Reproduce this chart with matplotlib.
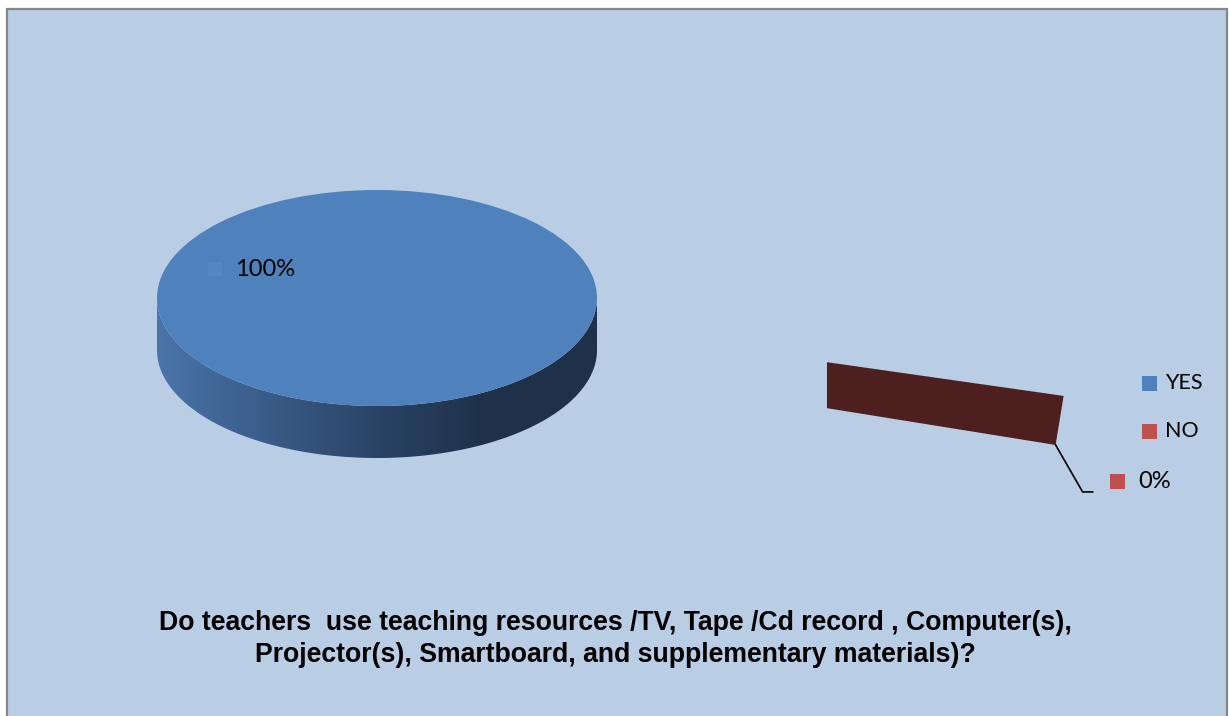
import numpy as np
import matplotlib.pyplot as plt
from matplotlib.patches import Rectangle, Polygon, Ellipse
from matplotlib.colors import LinearSegmentedColormap

# dados do gráfico
categorias = ['YES', 'NO']
valores = [100, 0]
cores = ['#4F81BD', '#C0504D']
titulo = ('Do teachers  use teaching resources /TV, Tape /Cd record , Computer(s),\n'
          'Projector(s), Smartboard, and supplementary materials)?')

W, H = 1229, 716
fig = plt.figure(figsize=(W / 100, H / 100), dpi=100, facecolor='white')
ax = fig.add_axes([0, 0, 1, 1])
ax.set_xlim(0, W)
ax.set_ylim(H, 0)
ax.axis('off')

# área do gráfico
ax.add_patch(Rectangle((7, 9), 1220, 720, facecolor='#B9CDE5',
                       edgecolor='#868686', lw=1.6, zorder=0))

# geometria da pizza 3D (eixo y para baixo)
cx, cy, rx, ry, prof = 377, 298, 220, 108, 52
inicio = 16.2  # graus, sentido horário na tela
total = sum(valores)
acum = np.concatenate([[0], np.cumsum(valores)])
ang_ini = inicio + 360 * acum[:-1] / total
ang_fim = inicio + 360 * acum[1:] / total

# fatia YES (100%): lateral com degradê + topo
t = np.linspace(0, np.pi, 200)
frente_x = cx + rx * np.cos(t)
frente_y = cy + ry * np.sin(t)
lateral = np.column_stack([np.concatenate([frente_x, frente_x[::-1]]),
                           np.concatenate([frente_y, frente_y[::-1] + prof])])
poly = Polygon(lateral, closed=True, facecolor='none', edgecolor='none')
ax.add_patch(poly)
grad_cmap = LinearSegmentedColormap.from_list(
    'lado', [(0, '#4A74AA'), (0.25, '#3A5C88'), (0.55, '#273F60'),
             (0.75, '#1F3149'), (1, '#1F3149')])
grad = np.linspace(0, 1, 256).reshape(1, -1)
img = ax.imshow(grad, cmap=grad_cmap, aspect='auto',
                extent=[cx - rx, cx + rx, cy + ry + prof, cy], zorder=2)
img.set_clip_path(poly)
ax.add_patch(Ellipse((cx, cy), 2 * rx, 2 * ry, facecolor=cores[0],
                     edgecolor='none', zorder=3))

# fatia NO (0%) explodida: aparece só a face lateral
explode, escala = 2.13, 1.12
a = np.deg2rad((ang_ini[1] + ang_fim[1]) / 2)
dx, dy = np.cos(a) * rx, np.sin(a) * ry
x0, y0 = cx + explode * dx, cy + explode * dy
x1, y1 = cx + (explode + escala) * dx, cy + (explode + escala) * dy
face = [(x0, y0), (x1, y1), (x1 - 8, y1 + 49), (x0, y0 + 46)]
ax.add_patch(Polygon(face, closed=True, facecolor='#4D1F1F',
                     edgecolor='none', zorder=3))

# rótulos de dados
pct = [f'{v / total * 100:.0f}%' for v in valores]
fonte = 'Lato'
ax.add_patch(Rectangle((208, 262), 14, 14, facecolor='#5587C2',
                       edgecolor='none', zorder=4))
ax.text(235, 270, pct[0], fontsize=17, family=fonte, va='center',
        ha='left', zorder=5)

lx, ly = x1 - 8, y1 + 49
ax.plot([lx, lx + 27, lx + 37], [ly, ly + 47, ly + 47], color='black',
        lw=1.2, zorder=4)
ax.add_patch(Rectangle((1110, 474), 15, 15, facecolor=cores[1],
                       edgecolor='none', zorder=4))
ax.text(1138, 482, pct[1], fontsize=17, family=fonte, va='center',
        ha='left', zorder=5)

# legenda
for i, (cat, cor) in enumerate(zip(categorias, cores)):
    yy = 383 + i * 48
    ax.add_patch(Rectangle((1142, yy - 7.5), 15, 15, facecolor=cor,
                           edgecolor='none', zorder=4))
    ax.text(1165, yy, cat, fontsize=15.5, family=fonte, va='center',
            ha='left', zorder=5)

# título
ax.text(615, 639, titulo, fontsize=19.2, family='Liberation Sans',
        weight='bold', ha='center', va='center', linespacing=1.3, zorder=5)

plt.savefig('out.png', dpi=100, facecolor=fig.get_facecolor())
